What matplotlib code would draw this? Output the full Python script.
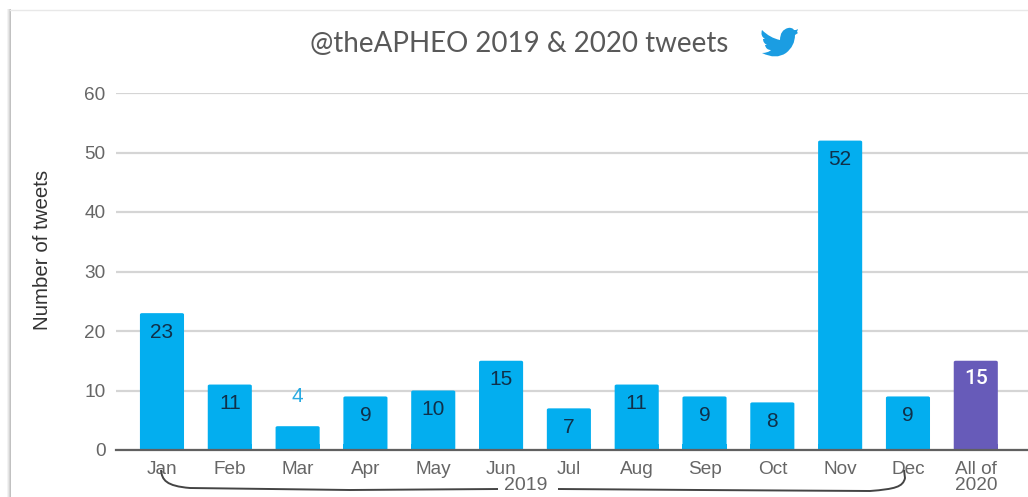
import matplotlib
matplotlib.use("Agg")
import matplotlib.pyplot as plt
from matplotlib.patches import FancyBboxPatch, PathPatch, Rectangle
from matplotlib.path import Path

# === DATA ===
months = ["Jan", "Feb", "Mar", "Apr", "May", "Jun", "Jul", "Aug", "Sep", "Oct", "Nov", "Dec", "All of\n2020"]
tweets = [23, 11, 4, 9, 10, 15, 7, 11, 9, 8, 52, 9, 15]
y_ticks = [0, 10, 20, 30, 40, 50, 60]

# === STYLE ===
W, H = 1028, 497
BLUE = "#03AEEF"
PURPLE = "#675BB9"
GREY = "#666666"
DARK = "#10304A"
BAR_WIDTH = 0.65

plt.rcParams["font.family"] = ["Liberation Sans", "DejaVu Sans"]

fig = plt.figure(figsize=(W / 100, H / 100), dpi=100, facecolor="white")


def px_box(left, top, right, bottom):
    return [left / W, 1 - bottom / H, (right - left) / W, (bottom - top) / H]


# === CARD + DECORATION LAYER (pixel coordinates) ===
deco = fig.add_axes([0, 0, 1, 1], zorder=2)
deco.patch.set_alpha(0)
deco.set_xlim(0, W)
deco.set_ylim(H, 0)
deco.axis("off")
for i, alpha in enumerate([0.10, 0.22, 0.38, 0.55]):
    deco.add_patch(Rectangle((6.5 + i, 9), 1, H, color="#8f8f8f", alpha=alpha, lw=0))
deco.plot([10, W], [9.5, 9.5], color="#e8e8e8", lw=1)

# === BARS ===
ax = fig.add_axes(px_box(116, 93, W, 450), zorder=1)
ax.patch.set_alpha(0)
x = list(range(len(months)))
colors = [BLUE] * 12 + [PURPLE]
ax.set_xlim(-0.678, 12.77)
ax.set_ylim(0, 60)
ax.set_yticks(y_ticks)
ax.set_xticks(x)
ax.set_xticklabels(months, linespacing=0.95)
ax.tick_params(axis="both", length=0, labelsize=13.7, labelcolor=GREY)
ax.tick_params(axis="x", pad=8)
ax.tick_params(axis="y", pad=7.5)
ax.grid(axis="y", color="#d5d5d5", lw=1.6)
ax.set_axisbelow(True)
for side in ["top", "right", "left"]:
    ax.spines[side].set_visible(False)
ax.spines["bottom"].set_color("#606060")
ax.spines["bottom"].set_linewidth(1.6)
ax.spines["bottom"].set_zorder(4)

for xi, value, color in zip(x, tweets, colors):
    ax.add_patch(FancyBboxPatch((xi - BAR_WIDTH / 2, 0), BAR_WIDTH, value,
                                boxstyle="round,pad=0,rounding_size=0.03",
                                mutation_aspect=8, fc=color, ec="none", zorder=3))
    ax.add_patch(Rectangle((xi - BAR_WIDTH / 2, 0), BAR_WIDTH, min(value, 1), fc=color, ec="none", zorder=3))
    if value == 4:
        ax.text(xi, value + 3.4, str(value), ha="center", va="bottom", fontsize=15, color="#29ABE2", zorder=5)
    elif color == PURPLE:
        ax.text(xi, value - 1.4, str(value), ha="center", va="top", fontsize=15, color="white",
                zorder=5, family=["Roboto", "DejaVu Sans"], fontweight="medium")
    else:
        ax.text(xi, value - 1.6, str(value), ha="center", va="top", fontsize=15, color=DARK, zorder=5)

ax.set_ylabel("Number of tweets", fontsize=14.8, color="#333333")
ax.yaxis.set_label_coords((52 - 116) / (W - 116), (450 - 250) / 357)

# === TITLE ===
fig.text(519 / W, 1 - 44 / H, "@theAPHEO 2019 & 2020 tweets", ha="center", va="center",
         fontsize=20, color="#595959", family=["Lato", "DejaVu Sans"])

# === TWITTER BIRD ===
C3, M, L = Path.CURVE3, Path.MOVETO, Path.LINETO
bird = [(762, 30, M), (770, 38, C3), (780, 40, C3), (780, 30, C3), (788, 28, C3), (792, 27, C3), (794, 30, C3),
        (796, 30, L), (798, 29, L), (797, 32, L), (798, 33, L), (795, 35, L), (795, 46, C3), (786, 53, C3),
        (776, 60, C3), (762, 53, C3), (768, 53, C3), (771, 50, C3), (766, 50, C3), (765, 45, L), (767, 45, L),
        (763, 43, C3), (763, 39, C3), (765, 39, L), (760, 36, C3), (762, 30, C3)]
deco.add_patch(PathPatch(Path([p[:2] for p in bird], [p[2] for p in bird]), fc="#1B9DE2", ec="none"))

# === 2019 BRACE ===
brace_left = Path([(161, 470), (162, 480), (166, 486), (190, 488), (350, 490), (498, 489)],
                  [Path.MOVETO, Path.CURVE4, Path.CURVE4, Path.CURVE4, Path.LINETO, Path.LINETO])
brace_right = Path([(558, 489), (700, 490), (870, 491), (895, 489), (903, 487), (905, 478), (904, 470)],
                   [Path.MOVETO, Path.LINETO, Path.LINETO, Path.CURVE4, Path.CURVE4, Path.CURVE4, Path.LINETO])
for brace in [brace_left, brace_right]:
    deco.add_patch(PathPatch(brace, fc="none", ec="#444444", lw=1.4))
deco.text(526, 485, "2019", ha="center", va="center", fontsize=14, color=GREY)

fig.savefig("out.png", dpi=100, facecolor="white")
